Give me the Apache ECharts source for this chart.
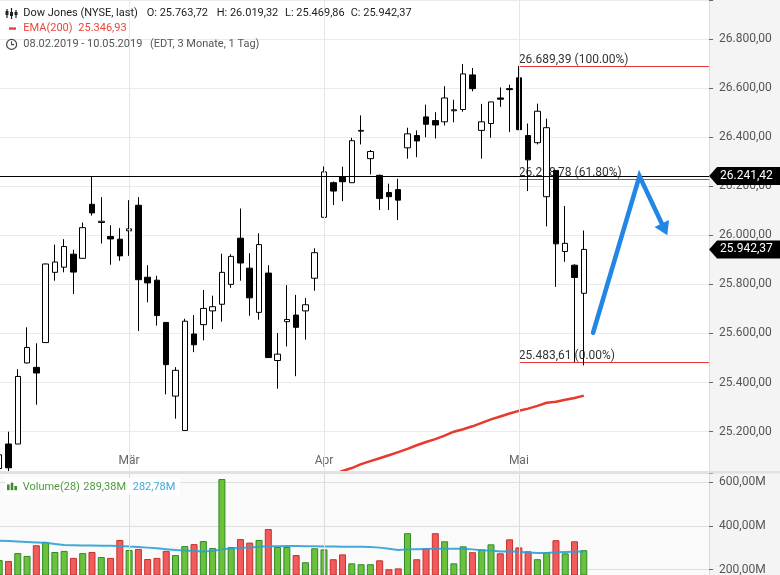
<!DOCTYPE html>
<html><head><meta charset="utf-8">
<script src="https://cdn.jsdelivr.net/npm/echarts@6/dist/echarts.min.js"></script>
<style>html,body{margin:0;padding:0;background:#fff}#c{width:780px;height:575px}</style>
</head><body><div id="c"></div>
<script>
// ---------- data ----------
const dates = ['08.02.','11.02.','12.02.','13.02.','14.02.','15.02.','19.02.','20.02.','21.02.','22.02.','25.02.','26.02.','27.02.','28.02.',
 '01.03.','04.03.','05.03.','06.03.','07.03.','08.03.','11.03.','12.03.','13.03.','14.03.','15.03.','18.03.','19.03.','20.03.','21.03.','22.03.','25.03.','26.03.','27.03.','28.03.','29.03.',
 '01.04.','02.04.','03.04.','04.04.','05.04.','08.04.','09.04.','10.04.','11.04.','12.04.','15.04.','16.04.','17.04.','18.04.','22.04.','23.04.','24.04.','25.04.','26.04.','29.04.','30.04.',
 '01.05.','02.05.','03.05.','06.05.','07.05.','08.05.','09.05.','10.05.'];
const open  = [25050,25150,25150,25480,25462,25563,25849,25870,25923,25906,26126,26052,25995,25984,
 26018,26122,25829,25817,25645,25345,25205,25598,25636,25692,25719,25800,25988,25866,25686,25846,25490,25648,25675,25692,25825,
 26073,26214,26239,26214,26424,26312,26244,26174,26186,26356,26406,26482,26467,26462,26507,26512,26653,26427,26455,26559,26597,
 26641,26406,26377,26157,26264,25934,25878,25763.72];
const close = [25106,25053,25425,25543,25439,25883,25891,25954,25850,26031,26091,26057,25985,25916,
 26026,25819,25806,25673,25473,25450,25650,25554,25702,25709,25849,25914,25887,25745,25962,25502,25516,25657,25625,25717,25929,
 26258,26180,26218,26385,26427,26341,26150,26157,26143,26413,26384,26452,26449,26559,26511,26657,26597,26462,26543,26554,26593,
 26430,26307,26505,26438,25965,25967,25828,25942.37];
const low   = [24883,25034,25150,25478,25310,25563,25815,25849,25761,25906,26080,25966,25880,25896,
 25916,25610,25727,25632,25352,25253,25205,25524,25572,25618,25648,25786,25815,25672,25656,25500,25375,25547,25426,25575,25774,
 26073,26123,26139,26214,26370,26248,26103,26103,26062,26312,26318,26399,26394,26447,26460,26503,26586,26312,26397,26523,26420,
 26428,26180,26370,26036,25790,25892,25483.61,25469.86];
const high  = [25110,25200,25455,25625,25560,25885,25962,25984,25941,26052,26241.42,26155,26041,26029,
 26143,26155,25878,25835,25645,25463,25660,25675,25777,25754,25925,25923,26109,25927,26008,25878,25602,25797,25757,25744,25947,
 26280,26219,26279,26397,26488,26347,26247,26210,26230,26438,26427,26532,26501,26607,26552,26697,26681,26535,26543,26602,26613,
 26689.39,26455,26536,26475,26264,26119,25882,26019.32];
const ema200 = [null,null,null,null,null,null,null,null,null,null,null,null,null,null,
 null,null,null,null,null,null,null,null,null,null,null,null,null,null,null,null,null,null,null,null,null,
 25010,25025,25040,25052,25068,25080,25092,25104,25117,25130,25145,25158,25170,25184,25200,25210,25222,25236,25250,25262,25274,
 25285,25294,25305,25318,25322,25330,25337,25346.93];
const volume = [244,240,276,263,312,327,281,286,254,276,281,258,254,336,
 290,295,249,254,286,267,308,317,331,299,615,304,340,324,336,386,304,304,267,234,298,
 293,248,270,229,225,225,243,202,206,367,248,298,367,330,229,307,280,293,316,275,339,
 302,284,248,280,335,275,330,289.38];
const volumeMA = [333,331,329,327,325,323,318,313,312,311,311,310,310,309,
 306,304,301,298,294,290,288,286,283,286,293,297,300,302,305,307,307,308,308,307,307,
 306,306,305,305,305,304,301,296,290,293,294,295,296,296,296,296,293,289,288,283,284,
 282,279,276,276,280,281,282,282.78];
const extraSlots = 13;
const resistance = 26241.42;
const fibStartIdx = 56;
const fibLevels = [26689.39, 26228.78, 25483.61];
const fibPercents = ['100.00%', '61.80%', '0.00%'];
const monthIdx = [14, 35, 56];
const monthNames = ['Mär', 'Apr', 'Mai'];
const arrowPath = [[64, 25603], [69, 26241], [72, 26000]];
const priceStep = 200, volStep = 200;
const rangeText = '08.02.2019 - 10.05.2019';

// ---------- helpers ----------
const FONT = 'Roboto, "Liberation Sans", Arial, sans-serif';
function de(v, d) {
  d = d === undefined ? 2 : d;
  const s = Math.abs(v).toFixed(d).split('.');
  const i = s[0].replace(/\B(?=(\d{3})+(?!\d))/g, '.');
  return (v < 0 ? '-' : '') + i + (s[1] ? ',' + s[1] : '');
}
const isMult = (v, s) => Math.abs(v / s - Math.round(v / s)) < 1e-6;
const cats = dates.concat(Array.from({length: extraSlots}, (_, k) => '+' + (k + 1)));
const candles = dates.map((d, i) => [open[i], close[i], low[i], high[i]]);
const isUp = i => close[i] >= open[i];
const G = '#6cc13a', GB = '#2f8a2a', R = '#f25b5b', RB = '#c9302c';
const volData = volume.map((v, i) => ({value: v, itemStyle: isUp(i) ? {color: G, borderColor: GB} : {color: R, borderColor: RB}}));
const blanks = dates.map(() => null);

const chart = echarts.init(document.getElementById('c'));
const yCommon = {
  position: 'right',
  axisLine: {show: true, lineStyle: {color: '#dcdcdc'}},
  axisTick: {show: true, length: 4, lineStyle: {color: '#666'}},
  showMinLabel: false, showMaxLabel: false
};
const option = {
  animation: false,
  backgroundColor: '#fff',
  grid: [
    {left: -5.44, top: 0, width: 714.5, height: 471, show: true, backgroundColor: '#fff', borderWidth: 0, outerBoundsMode: 'none', containLabel: false},
    {left: -5.44, top: 473.5, width: 714.5, height: 101.5, show: true, backgroundColor: '#fafafa', borderWidth: 0, outerBoundsMode: 'none', containLabel: false}
  ],
  xAxis: [
    {type: 'category', gridIndex: 0, data: cats, boundaryGap: true,
     axisLine: {show: false},
     axisTick: {show: true, inside: true, length: 4, alignWithLabel: true, interval: i => monthIdx.includes(i), lineStyle: {color: '#555'}},
     axisLabel: {show: true, inside: true, margin: 4, interval: i => monthIdx.includes(i),
       formatter: (v, i) => { const k = monthIdx.indexOf(i); return k >= 0 ? monthNames[k] : ''; },
       color: '#666', fontSize: 12, fontFamily: FONT},
     splitLine: {show: false}},
    {type: 'category', gridIndex: 1, data: cats, boundaryGap: true,
     axisLine: {show: false}, axisTick: {show: false}, axisLabel: {show: false}, splitLine: {show: false}}
  ],
  yAxis: [
    Object.assign({type: 'value', gridIndex: 0, min: 25040, max: 26958, splitNumber: 10,
      axisLabel: {margin: 10, color: '#555', fontSize: 12, fontFamily: FONT, formatter: v => isMult(v, priceStep) ? de(v) : ''},
      splitLine: {show: true, lineStyle: {color: '#ebebeb'}}}, yCommon),
    Object.assign({type: 'value', gridIndex: 1, min: 175.7, max: 640.3, splitNumber: 3,
      axisLabel: {margin: 10, color: '#555', fontSize: 12, fontFamily: FONT, formatter: v => isMult(v, volStep) ? de(v) + 'M' : ''},
      splitLine: {show: true, lineStyle: {color: '#dedede'}}}, yCommon)
  ],
  series: [
    {type: 'line', xAxisIndex: 0, yAxisIndex: 0, data: blanks, z: 1, symbol: 'none', silent: true,
     markLine: {symbol: 'none', silent: true, label: {show: false}, lineStyle: {color: '#e6e6e6', width: 1, type: 'solid'},
       data: monthIdx.map(i => ({xAxis: dates[i]}))}},
    {type: 'line', xAxisIndex: 1, yAxisIndex: 1, data: blanks, z: 1, symbol: 'none', silent: true,
     markLine: {symbol: 'none', silent: true, label: {show: false}, lineStyle: {color: '#dcdcdc', width: 1, type: 'solid'},
       data: monthIdx.map(i => ({xAxis: dates[i]}))}},
    {type: 'line', name: 'EMA(200)', xAxisIndex: 0, yAxisIndex: 0, data: ema200, symbol: 'none', z: 2,
     lineStyle: {color: '#e8392c', width: 2.5}},
    {type: 'candlestick', xAxisIndex: 0, yAxisIndex: 0, data: candles, barWidth: 6, z: 3,
     itemStyle: {color: '#fff', color0: '#000', borderColor: '#000', borderColor0: '#000', borderWidth: 1},
     markLine: {symbol: 'none', silent: true, label: {show: false}, lineStyle: {color: '#000', width: 1, type: 'solid'},
       data: [{yAxis: resistance}]}},
    {type: 'bar', xAxisIndex: 1, yAxisIndex: 1, data: volData, barWidth: 7, z: 2, itemStyle: {borderWidth: 1}},
    {type: 'line', xAxisIndex: 1, yAxisIndex: 1, data: volumeMA, symbol: 'none', z: 3,
     lineStyle: {color: '#2fa0d4', width: 2, opacity: 0.9}}
  ]
};
chart.setOption(option);

function txt(x, y, s, fill, size, z) {
  return {type: 'text', z: z || 100, silent: true, x: x, y: y,
    style: {text: s, fill: fill, fontSize: size || 11, fontFamily: FONT, verticalAlign: 'middle', align: 'left'}};
}
function buildGraphics() {
  const g = [];
  let right = -5.44 + 714.5;
  try { const r = chart.getModel().getComponent('grid', 0).coordinateSystem.getRect(); right = r.x + r.width; } catch (e) {}
  const P = (i, v) => chart.convertToPixel({xAxisIndex: 0, yAxisIndex: 0}, [cats[i], v]);
  // right axis panel
  g.push({type: 'rect', z: -1, silent: true, shape: {x: right, y: 0, width: 780 - right, height: 575}, style: {fill: '#f4f4f4'}});
  // separator
  g.push({type: 'rect', z: 50, silent: true, shape: {x: 0, y: 471, width: 780, height: 2.5}, style: {fill: '#e2e2e2'}});
  // fibonacci lines
  fibLevels.forEach((lv, k) => {
    const p = P(fibStartIdx, lv);
    const y = Math.round(p[1]) + 0.5;
    g.push({type: 'line', z: 1, silent: true, shape: {x1: p[0], y1: y, x2: right, y2: y}, style: {stroke: '#e53935', lineWidth: 1}});
    g.push(txt(p[0], y - 7, de(lv) + ' (' + fibPercents[k] + ')', '#333', 12, 1));
  });
  // price tags
  [resistance, close[close.length - 1]].forEach(v => {
    const y = P(0, v)[1];
    g.push({type: 'polygon', z: 100, silent: true,
      shape: {points: [[right, y], [right + 8, y - 9], [780, y - 9], [780, y + 9], [right + 8, y + 9]]}, style: {fill: '#000'}});
    g.push(txt(right + 11, y, de(v), '#fff', 12, 101));
  });
  // blue arrow
  const pts = arrowPath.map(a => P(a[0], a[1]));
  const p1 = pts[1], p2 = pts[2];
  const dx = p2[0] - p1[0], dy = p2[1] - p1[1], L = Math.hypot(dx, dy);
  const ux = dx / L, uy = dy / L, nx = -uy, ny = ux;
  const base = [p2[0] - ux * 13, p2[1] - uy * 13];
  g.push({type: 'polyline', z: 100, silent: true, shape: {points: [pts[0], p1, base]},
    style: {stroke: '#2186e4', lineWidth: 4.5, lineCap: 'round', lineJoin: 'miter', fill: null}});
  g.push({type: 'polygon', z: 100, silent: true,
    shape: {points: [p2, [base[0] + nx * 8, base[1] + ny * 8], [base[0] - nx * 8, base[1] - ny * 8]]}, style: {fill: '#2186e4'}});
  // header legend
  const n = close.length - 1;
  [[7, 9, 18, 11, 15], [11.5, 8, 19, 12, 16], [16, 10, 18, 12, 15]].forEach(c => {
    g.push({type: 'line', z: 100, silent: true, shape: {x1: c[0], y1: c[1], x2: c[0], y2: c[2]}, style: {stroke: '#222', lineWidth: 1.2}});
    g.push({type: 'rect', z: 100, silent: true, shape: {x: c[0] - 1.5, y: c[3], width: 3, height: c[4] - c[3]}, style: {fill: '#222'}});
  });
  g.push(txt(23.3, 13.3, 'Dow Jones (NYSE, last)', '#222'));
  g.push(txt(146.7, 13.3, 'O: ' + de(open[n]), '#222'));
  g.push(txt(216.7, 13.3, 'H: ' + de(high[n]), '#222'));
  g.push(txt(285, 13.3, 'L: ' + de(low[n]), '#222'));
  g.push(txt(350.7, 13.3, 'C: ' + de(close[n]), '#222'));
  g.push({type: 'rect', z: 100, silent: true, shape: {x: 9, y: 27.3, width: 7, height: 2.5}, style: {fill: '#f04438'}});
  g.push(txt(23.3, 28.5, 'EMA(200)', '#f04438'));
  g.push(txt(78.3, 28.5, de(ema200[n]), '#f04438'));
  g.push({type: 'circle', z: 100, silent: true, shape: {cx: 11.6, cy: 44.4, r: 5}, style: {stroke: '#444', lineWidth: 1.2, fill: null}});
  g.push({type: 'polyline', z: 100, silent: true, shape: {points: [[11.6, 41.2], [11.6, 44.6], [14.2, 44.6]]}, style: {stroke: '#444', lineWidth: 1.1, fill: null}});
  g.push(txt(23.3, 44.4, rangeText, '#555'));
  g.push(txt(150, 44.4, '(EDT, 3 Monate, 1 Tag)', '#555'));
  // volume legend
  g.push({type: 'rect', z: 60, silent: true, shape: {x: 5, y: 478, width: 175, height: 17}, style: {fill: 'rgba(255,255,255,0.92)'}});
  [[7, 484.5], [10.7, 482.7], [14.4, 486]].forEach(b => {
    g.push({type: 'rect', z: 100, silent: true, shape: {x: b[0], y: b[1], width: 2.6, height: 490.2 - b[1]}, style: {fill: '#3d8b2f'}});
  });
  g.push(txt(22.7, 486.8, 'Volume(28)', '#4e9a3e'));
  g.push(txt(83.3, 486.8, de(volume[n]) + 'M', '#4e9a3e'));
  g.push(txt(132.7, 486.8, de(volumeMA[n]) + 'M', '#45a7d9'));
  return g;
}
chart.setOption({graphic: {elements: buildGraphics()}});
</script>
</body></html>
